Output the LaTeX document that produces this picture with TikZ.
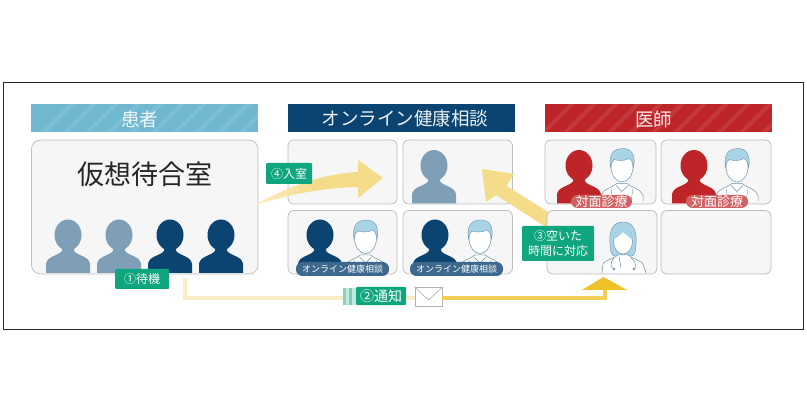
\documentclass[tikz,border=0pt]{standalone}
\usepackage{fontspec}
\setmainfont{Noto Sans CJK JP}
\usetikzlibrary{arrows.meta}
\definecolor{navy}{HTML}{0B4471}
\definecolor{slate}{HTML}{7F9FB6}
\definecolor{sky}{HTML}{6FB8CF}
\definecolor{crimson}{HTML}{BE2528}
\definecolor{mint}{HTML}{0FA57F}
\definecolor{panelgray}{HTML}{F6F6F6}
\definecolor{panelline}{HTML}{BDBDBD}
\definecolor{paleyel}{HTML}{F8EDC4}
\definecolor{softyel}{HTML}{F5DC8A}
\definecolor{goldyel}{HTML}{EFC229}
\definecolor{hairblue}{HTML}{A9D3E6}
\definecolor{docline}{HTML}{6E93A8}
\tikzset{
  x=1pt,y=-1pt,
  header/.style={minimum width=227pt,minimum height=28pt,inner sep=0pt},
  headtext/.style={inner sep=0pt,font=\fontsize{18.5}{18.5}\selectfont},
  panel/.style={draw=panelline,fill=panelgray,rounded corners=6pt,line width=.7pt},
  tag/.style={fill=mint,text=white,inner sep=0pt,align=center,rounded corners=1pt,font=\fontsize{12}{15}\selectfont},
  pill/.style={rounded corners=6.5pt,text=white,inner sep=0pt},
  personfig/.pic={
    \fill[pic actions] (0,-38) ellipse (13.5 and 15.5);
    \fill[pic actions] (-22,0) -- (-22,-9) .. controls (-21,-17) and (-10,-17) .. (-6,-22)
       -- (-6,-30) -- (6,-30) -- (6,-22) .. controls (10,-17) and (21,-17) .. (22,-9) -- (22,0) -- cycle;
  },
  maledoc/.pic={
    \draw[docline,line width=.5pt,fill=white] (-21,36) -- (-21,30) .. controls (-19,23) and (-9,22) .. (-5,18)
      -- (5,18) .. controls (9,22) and (19,23) .. (21,30) -- (21,36);
    \draw[docline,line width=.4pt] (-6,20) -- (0,26) -- (6,20) (0,26) -- (0,36) (-11,23) -- (-9,36) (11,23) -- (9,36);
    \draw[docline,line width=.5pt,fill=white] (0,1) ellipse (11 and 15.5);
    \fill[hairblue,draw=docline,line width=.4pt] (-11.5,2) .. controls (-14,-14) and (-6,-17) .. (1,-17)
      .. controls (9,-17) and (14,-11) .. (11.5,2) .. controls (11,-3) and (9,-6) .. (7,-7)
      .. controls (2,-4) and (-5,-5) .. (-8,-6) .. controls (-10,-4) and (-11,-2) .. (-11.5,2) -- cycle;
  },
  femaledoc/.pic={
    \fill[hairblue,draw=docline,line width=.4pt] (0,-18) .. controls (-12,-18) and (-14,-6) .. (-13,4)
      .. controls (-13,10) and (-12,14) .. (-9,16) -- (9,16) .. controls (12,14) and (13,10) .. (13,4)
      .. controls (14,-6) and (12,-18) .. (0,-18) -- cycle;
    \draw[docline,line width=.5pt,fill=white] (-21,33) -- (-20,24) .. controls (-18,20) and (-9,19) .. (-5,15)
      -- (5,15) .. controls (9,19) and (18,20) .. (20,24) -- (23,33);
    \draw[docline,line width=.5pt,fill=white] (0,1) ellipse (9.5 and 13);
    \fill[hairblue] (-9.5,0) .. controls (-9,-8) and (-4,-13) .. (0,-13) .. controls (4,-13) and (9,-8) .. (9.5,0)
      .. controls (6,-3) and (2,-6) .. (0,-8) .. controls (-2,-5) and (-6,-3) .. (-9.5,0) -- cycle;
    \draw[docline,line width=.5pt] (-9,18) .. controls (-14,24) and (-12,28) .. (-9,29) (8,18) .. controls (14,22) and (13,28) .. (11,29) (-4,17) -- (-2,27);
    \fill[docline] (-9,29) circle (1.4) (11,29) circle (1.4);
  },
}
\begin{document}
\begin{tikzpicture}
\useasboundingbox (0,0) rectangle (807,417);
\fill[white] (0,0) rectangle (807,417);
\draw[black!85,line width=.9pt] (3.5,82.5) rectangle (803,329);

% headers
\node[header,fill=sky] (hp) at (144.75,118) {};
\node[header,fill=navy] (ho) at (401,118) {};
\node[header,fill=crimson] (hd) at (658.5,118) {};
\begin{scope}
  \clip (31.25,104) rectangle (258.25,132);
  \foreach \s in {40,62,...,300} \draw[white,opacity=.10,line width=4pt] (\s,136) -- (\s+36,100);
\end{scope}
\begin{scope}
  \clip (545,104) rectangle (772,132);
  \foreach \s in {540,562,...,800} \draw[white,opacity=.09,line width=4pt] (\s,136) -- (\s+36,100);
\end{scope}
\node[headtext,text=white!90!sky] (hpt) at (139.5,119) {患者};
\node[headtext,text=white!92!navy] (hot) at (405,119) {オンライン健康相談};
\node[headtext,text=white!92!crimson] (hdt) at (653.5,119) {医師};

% panels
\draw[panel,rounded corners=9pt] (31.5,140) rectangle (258,274);
\node[font=\fontsize{27}{27}\selectfont,text=black!85] (room) at (145,174) {仮想待合室};
\draw[panel] (288,140) rectangle (397,204);
\draw[panel] (288,210.5) rectangle (397,274);
\draw[panel] (403,140) rectangle (512.5,204);
\draw[panel] (403,210.5) rectangle (512.5,274);
\draw[panel] (545,140) rectangle (656,204);
\draw[panel] (661,140) rectangle (771,204);
\draw[panel] (661,210.5) rectangle (771,274);

% people: waiting room
\pic[fill=slate] at (68,273) {personfig};
\pic[fill=slate] at (119,273) {personfig};
\pic[fill=navy] at (170,273) {personfig};
\pic[fill=navy] at (221,273) {personfig};
% people: online
\pic[fill=slate] at (434,203.5) {personfig};
\pic at (365.5,237) {maledoc};
\pic[fill=navy] at (320,273) {personfig};
\pic at (480,237) {maledoc};
\pic[fill=navy] at (435,273) {personfig};
% people: doctors
\pic at (622,165.5) {maledoc};
\pic[fill=crimson] at (579,203.5) {personfig};
\pic at (737,165.5) {maledoc};
\pic[fill=crimson] at (694,203.5) {personfig};

% pills
\node[pill,fill=navy!80!white,minimum width=93pt,minimum height=14pt,font=\fontsize{9}{9}\selectfont] (p1) at (342.5,269) {オンライン健康相談};
\node[pill,fill=navy!80!white,minimum width=93pt,minimum height=14pt,font=\fontsize{9}{9}\selectfont] (p2) at (456.5,269) {オンライン健康相談};
\node[pill,fill=crimson!72!white,minimum width=61pt,minimum height=13pt,font=\fontsize{13}{13}\selectfont] (p3) at (601.5,201.5) {対面診療};
\node[pill,fill=crimson!72!white,minimum width=62pt,minimum height=13pt,font=\fontsize{13}{13}\selectfont] (p4) at (717,201.5) {対面診療};

% entry arrow
\shade[left color=softyel!45!white,right color=softyel,middle color=softyel]
  (250,207) .. controls (285,188) and (320,174) .. (358,172) -- (358,160) -- (383,178) -- (358,198) -- (358,187)
  .. controls (320,188) and (285,195) .. (250,207) -- cycle;

% respond arrow, passing behind the free doctor's panel
\fill[softyel] (482,169) -- (514,174) -- (506.5,186) -- (558,218) -- (549,229) -- (496,195) -- (486,202) -- cycle;
\draw[panel] (547,210.5) rectangle (657,274);
\pic at (623,240) {femaledoc};

% notification route
\coordinate (wait) at (185,278);
\coordinate (bend) at (185,298);
\coordinate (rise) at (605,298);
\coordinate (tip) at (605,283);
\node[draw=black!30,fill=white,line width=.8pt,minimum width=27pt,minimum height=19pt,inner sep=0pt] (mail) at (428.5,297) {};
\draw[paleyel,line width=4.5pt] (wait) -- (bend) -- (345,298);
\fill[mint!50!white] (343,288) rectangle (346,305);
\fill[mint!25!white] (346,288) rectangle (349,305);
\fill[mint!55!white] (349,288) rectangle (352,305);
\fill[mint!25!white] (352,288) rectangle (356,305);
\node[tag,minimum width=50pt,minimum height=18pt,font=\fontsize{14}{14}\selectfont] (t2) at (381,296) {②通知};
\draw[paleyel,line width=4.5pt] (t2.east) ++(0,2) -- (mail.west |- bend);
\draw[goldyel!80!white,line width=4.5pt] (mail.east |- bend) -- (rise) -- (tip);
\fill[goldyel] (582,290) -- (603.5,277) -- (627,290) -- cycle;
\draw[black!30,line width=.6pt] (mail.north west) -- (mail.center |- 0,300) -- (mail.north east);

% tags
\node[tag,minimum width=54pt,minimum height=20pt] (t1) at (142,279) {①待機};
\node[tag,minimum width=46pt,minimum height=21pt] (t4) at (289,173.5) {④入室};
\node[tag,minimum width=72pt,minimum height=35pt] (t3) at (558,243.5) {③空いた\\時間に対応};
\end{tikzpicture}
\end{document}
